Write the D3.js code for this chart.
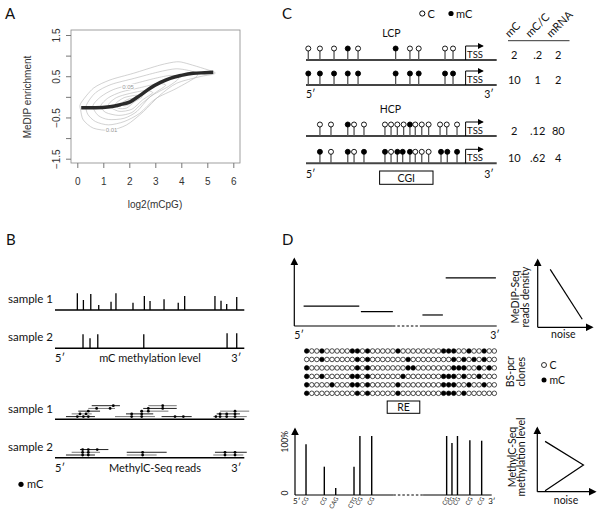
<!DOCTYPE html>
<html><head><meta charset="utf-8">
<script src="https://cdn.jsdelivr.net/npm/d3@7"></script>
<style>body{margin:0;background:#fff}svg{display:block}</style>
</head><body>
<svg id="fig" width="600" height="515"></svg>
<script>
// ================= DATA =================
// ---- Panel A ----
const aXTicks = [0,1,2,3,4,5,6];
const aYTicks = [-1.5,-1,-0.5,0,0.5,1,1.5];
const aYTickLabels = ["\u22121.5","","\u22120.5","","0.5","","1.5"];
const aFitX = [0.15,0.7,1.26,1.65,2.03,2.4,2.8,3.2,3.57,4.0,4.46,4.9,5.23];
const aFitY = [-0.265,-0.265,-0.24,-0.19,-0.12,0.03,0.21,0.35,0.45,0.52,0.57,0.585,0.595];
const aContours = [
  [[0.13,-0.16],[0.62,0.21],[1.26,0.41],[2.15,0.57],[3.18,0.77],[3.82,0.85],[4.21,0.81],[5.23,0.61],[5.23,0.55],[4.72,0.49],[3.82,0.33],[3.18,0.04],[2.54,-0.36],[1.9,-0.68],[1.26,-0.81],[0.62,-0.76],[0.23,-0.56],[0.13,-0.32]],
  [[0.35,-0.2],[0.7,0.1],[1.3,0.3],[2.2,0.45],[3.1,0.6],[3.8,0.68],[4.4,0.62],[4.6,0.5],[3.8,0.2],[3.0,-0.05],[2.4,-0.4],[1.8,-0.6],[1.2,-0.68],[0.7,-0.6],[0.4,-0.42]],
  [[0.6,-0.22],[0.9,0.0],[1.4,0.18],[2.2,0.32],[3.0,0.45],[3.6,0.52],[3.9,0.45],[3.5,0.25],[2.8,0.0],[2.3,-0.35],[1.8,-0.52],[1.2,-0.55],[0.8,-0.45]],
  [[0.9,-0.22],[1.2,-0.02],[1.7,0.12],[2.4,0.22],[3.1,0.32],[3.4,0.28],[3.0,0.1],[2.5,-0.15],[2.1,-0.38],[1.6,-0.45],[1.1,-0.38]],
  [[1.2,-0.2],[1.5,-0.02],[2.0,0.08],[2.6,0.15],[2.9,0.1],[2.5,-0.08],[2.1,-0.3],[1.6,-0.35]],
  [[1.45,-0.18],[1.8,-0.02],[2.3,0.04],[2.5,0.0],[2.2,-0.12],[1.9,-0.27],[1.6,-0.28]],
  [[1.7,-0.15],[2.0,-0.05],[2.25,-0.06],[2.0,-0.18],[1.8,-0.22]]
];
const aContourLabels = [{t:"0.05",x:1.95,y:0.24},{t:"0.01",x:1.32,y:-0.81}];

// ---- Panel B ----
const bS1Pos = [11.8,15.0,18.9,23.1,29.6,32.2,41.2,47.2,50.2,57.6,65.1,68.5,84.5,87.7,90.7,96.0];
const bS1Lvl = [0.98,0.59,0.94,0.29,0.49,0.98,0.43,0.82,0.53,0.63,0.43,0.82,0.82,0.55,0.35,0.76];
const bS2Pos = [14.8,18.5,22.6,46.9,90.9,96.0];
const bS2Lvl = [0.82,0.59,0.82,0.82,0.88,0.88];
// reads: [start, end, stack level, [mC positions]]
const bReads1 = [
  [5.8,21.1,0,[11.8,15.0,17.6]],[8.8,19.4,1,[13.2,16.4]],[12.3,23.8,2,[17.6]],
  [17.6,31.7,3,[22.0,29.1]],[19.4,34.3,4,[30.8]],
  [31.7,52.8,0,[40.5,45.8]],[37.5,51.9,1,[40.5,45.8]],[44.9,59.9,2,[45.8,49.3]],
  [46.6,64.3,3,[49.3,56.9]],[49.3,64.3,4,[56.9]],
  [56.3,72.2,0,[63.4,67.8]],
  [83.6,101.3,0,[85.0,87.2,90.7,95.1]],[85.4,97.7,1,[87.2,90.7,95.1]],[87.2,102.6,2,[95.1]]
];
const bReads2 = [
  [5.8,21.1,0,[14.6,17.6]],[8.8,23.8,1,[14.6,17.6]],[13.2,28.2,2,[14.6,17.6,22.3]],
  [37.9,53.7,0,[46.3]],[37.9,59.0,1,[46.3]],
  [83.6,99.5,0,[89.8,95.1]],[84.5,101.3,1,[89.8,95.1]]
];

// ---- Panel C ----
const cLcpPos = [1.2,7.3,14.7,21.9,27.3,47.0,54.5,59.1,72.9,77.1];
const cLcpRow1 = [0,0,0,1,0,1,0,0,0,0];
const cLcpRow2 = [1,1,1,1,1,1,1,1,1,1];
const cHcpPos1 = [7.3,13.1,21.9,25.2,30.4,41.4,44.6,47.9,51.2,54.5,57.3,60.7,64.3,70.3,73.8,79.2];
const cHcpRow1 = [0,0,1,0,0,0,0,0,0,1,0,0,0,0,0,0];
const cHcpPos2 = [7.3,13.1,21.9,25.2,30.4,41.4,44.6,47.9,50.7,54.5,57.3,60.7,64.3,70.8,74.1,79.2];
const cHcpRow2 = [1,0,1,0,1,1,0,1,1,1,0,0,0,1,1,1];
const cTssPos = 83.7;
const cCgi = [38.6,66.6];
const cHeaders = ["mC","mC/C","mRNA"];
const cValues = [["2",".2","2"],["10","1","2"],["2",".12","80"],["10",".62","4"]];

// ---- Panel D ----
const dDensity = [[4.6,32.1,3.0],[32.9,48.7,2.17],[63.3,73.4,1.67],[74.8,99.6,7.3]];
const dGap1 = [48.7,63.1];
const dClones = [
  "10010000011010000010000000011100100100",
  "00010000001010000000100000000101010100",
  "10000000001010000000110000000111001010",
  "10010000011010000001000000011101001000",
  "10000100011010000010000000011100100100",
  "10000000001010000010000000011101000000"
];
const dRE = [45.9,62.0];
const dBarPos = [5.6,14.9,20.7,30.0,33.0,39.0,77.1,79.8,82.6,88.9,94.9];
const dBarVal = [86,48,12,48,100,100,100,88,100,93,92];
const dBarCtx = ["CG","CG","CAG","CTG","CG","CG","CG","CG","CG","CG","CG"];
const dGap2 = [50.0,65.1];

// ================= DRAW =================
const svg = d3.select("#fig");
const defs = svg.append("defs");
function marker(id,size){
  defs.append("marker").attr("id",id).attr("viewBox","0 0 10 10").attr("refX",8).attr("refY",5)
    .attr("markerWidth",size).attr("markerHeight",size).attr("markerUnits","userSpaceOnUse").attr("orient","auto")
    .append("path").attr("d","M0,0L10,5L0,10z").attr("fill","#000");
}
marker("arr",8); marker("arrS",6);
const SANS = "Lato, 'Open Sans', sans-serif";
const ARIAL = "'Liberation Sans', Arial, sans-serif";

function txt(g,x,y,s,size,anchor,font){
  return g.append("text").attr("x",x).attr("y",y).text(s).attr("font-size",size)
    .attr("text-anchor",anchor||"start").attr("font-family",font||SANS).attr("fill","#111");
}
// Panel letters
[["A",5,19],["C",282,19],["B",6,245],["D",282,245]].forEach(d=>txt(svg,d[1],d[2],d[0],15));

// ---------- Panel A ----------
{
  const g = svg.append("g");
  const xA = d3.scaleLinear().domain([0,6]).range([77.3,233.3]);
  const yA = d3.scaleLinear().domain([-1.5,1.5]).range([158.7,35]);
  const cline = d3.line().x(d=>xA(d[0])).y(d=>yA(d[1])).curve(d3.curveCardinalClosed.tension(0.2));
  g.selectAll("path.ct").data(aContours).join("path").attr("class","ct")
    .attr("d",cline).attr("fill","none").attr("stroke","#b4b4b4").attr("stroke-width",0.6);
  aContourLabels.forEach(l=>{
    txt(g,xA(l.x),yA(l.y)+2,l.t,6,"middle",ARIAL).attr("fill","#999")
      .attr("stroke","#fff").attr("stroke-width",2).attr("paint-order","stroke");
  });
  const fit = d3.line().x((d,i)=>xA(aFitX[i])).y((d,i)=>yA(aFitY[i])).curve(d3.curveMonotoneX);
  g.append("path").datum(aFitX).attr("d",fit).attr("fill","none").attr("stroke","#2a2a2a").attr("stroke-width",3.5);
  g.append("rect").attr("x",71).attr("y",30).attr("width",169).attr("height",133)
    .attr("fill","none").attr("stroke","#888").attr("stroke-width",0.8);
  const xa = g.append("g").attr("transform","translate(0,163)")
    .call(d3.axisBottom(xA).tickValues(aXTicks).tickSize(5).tickPadding(10).tickFormat(d3.format("d")));
  xa.select(".domain").remove();
  xa.selectAll("line").attr("stroke","#777");
  xa.selectAll("text").attr("font-family",ARIAL).attr("font-size",10).attr("fill","#333");
  const ya = g.append("g").attr("transform","translate(71,0)")
    .call(d3.axisLeft(yA).tickValues(aYTicks).tickSize(5).tickFormat((d,i)=>aYTickLabels[i]));
  ya.select(".domain").remove();
  ya.selectAll("line").attr("stroke","#777");
  ya.selectAll("text").attr("font-family",ARIAL).attr("font-size",10).attr("fill","#333")
    .attr("x",0).attr("dy",0).attr("text-anchor","middle").attr("transform","translate(-11,0) rotate(-90)");
  txt(g,155,208,"log2(mCpG)",10,"middle",ARIAL).attr("fill","#333");
  txt(g,0,0,"MeDIP enrichment",10,"middle",ARIAL).attr("fill","#333")
    .attr("transform","translate(31,97) rotate(-90)");
}

// ---------- Panel C ----------
{
  const g = svg.append("g");
  const xC = d3.scaleLinear().domain([0,100]).range([306,496.7]);
  // legend
  g.append("circle").attr("cx",422.3).attr("cy",13.5).attr("r",2.6).attr("fill","#fff").attr("stroke","#000");
  txt(g,427.5,17.5,"C",11);
  g.append("circle").attr("cx",451).attr("cy",13.5).attr("r",2.6).attr("fill","#000");
  txt(g,456,17.5,"mC",11);
  txt(g,391.5,37,"LCP",10.5,"middle");
  txt(g,390.5,113,"HCP",10.5,"middle");
  const rows = [
    {base:60, pos:cLcpPos, st:cLcpRow1},
    {base:85, pos:cLcpPos, st:cLcpRow2},
    {base:136, pos:cHcpPos1, st:cHcpRow1},
    {base:163.3, pos:cHcpPos2, st:cHcpRow2}
  ];
  rows.forEach((r,ri)=>{
    const rg = g.append("g");
    rg.append("line").attr("x1",xC(0)).attr("x2",xC(100)).attr("y1",r.base).attr("y2",r.base)
      .attr("stroke","#444").attr("stroke-width",2);
    rg.selectAll("line.st").data(r.pos).join("line").attr("class","st")
      .attr("x1",d=>xC(d)).attr("x2",d=>xC(d)).attr("y1",r.base).attr("y2",r.base-11)
      .attr("stroke","#555").attr("stroke-width",1.3);
    rg.selectAll("circle").data(r.pos).join("circle")
      .attr("cx",d=>xC(d)).attr("cy",r.base-11.5).attr("r",2.5)
      .attr("fill",(d,i)=>r.st[i]?"#000":"#fff").attr("stroke","#000").attr("stroke-width",0.9);
    const tx = xC(cTssPos);
    rg.append("path").attr("d",`M${tx},${r.base}V${r.base-14}H${tx+17}`)
      .attr("fill","none").attr("stroke","#000").attr("stroke-width",1).attr("marker-end","url(#arrS)");
    txt(rg,tx+1.5,r.base-2.5,"TSS",9.5);
    cValues[ri].forEach((v,j)=>txt(rg,[514.3,537.7,558.3][j],r.base-1,v,11,"middle"));
  });
  [94, 173.5].forEach(y=>{
    txt(g,xC(0),y+4,"5\u2032",10.5,"start");
    txt(g,xC(100)-3,y+4,"3\u2032",10.5,"end");
  });
  g.append("rect").attr("x",xC(cCgi[0])).attr("y",171).attr("width",xC(cCgi[1])-xC(cCgi[0])).attr("height",13.3)
    .attr("fill","#fff").attr("stroke","#000").attr("stroke-width",1);
  txt(g,(xC(cCgi[0])+xC(cCgi[1]))/2,181.5,"CGI",10.5,"middle");
  // table header
  cHeaders.forEach((h,j)=>{
    txt(g,0,0,h,11,"start").attr("transform",`translate(${[509.5,530,551][j]},38) rotate(-45)`);
  });
  g.append("line").attr("x1",508).attr("x2",569.5).attr("y1",40.7).attr("y2",40.7).attr("stroke","#000").attr("stroke-width",0.8);
}

// ---------- Panel B ----------
{
  const g = svg.append("g");
  const xB = d3.scaleLinear().domain([0,100]).range([55,244.3]);
  const hB = d3.scaleLinear().domain([0,1]).range([0,17]);
  const lollis = [{base:310,pos:bS1Pos,lvl:bS1Lvl,label:"sample 1"},{base:348.3,pos:bS2Pos,lvl:bS2Lvl,label:"sample 2"}];
  lollis.forEach(s=>{
    g.append("line").attr("x1",xB(0)).attr("x2",xB(100)).attr("y1",s.base).attr("y2",s.base).attr("stroke","#000").attr("stroke-width",1.6);
    g.selectAll(null).data(s.pos).join("line")
      .attr("x1",d=>xB(d)).attr("x2",d=>xB(d)).attr("y1",s.base).attr("y2",(d,i)=>s.base-hB(s.lvl[i]))
      .attr("stroke","#000").attr("stroke-width",1.3);
    txt(g,8,s.base-7.5,s.label,11.5);
  });
  txt(g,xB(0),362,"5\u2032",11,"start");
  txt(g,xB(100)-3,362,"3\u2032",11,"end");
  txt(g,150,362,"mC methylation level",11,"middle");

  const lv = d3.scaleLinear().domain([0,4]).range([2.7,13.6]);
  [{base:419.3,reads:bReads1,label:"sample 1"},{base:457.7,reads:bReads2,label:"sample 2"}].forEach(s=>{
    g.append("line").attr("x1",xB(0)).attr("x2",xB(100)).attr("y1",s.base).attr("y2",s.base).attr("stroke","#000").attr("stroke-width",1.6);
    txt(g,8,s.base-6.5,s.label,11.5);
    s.reads.forEach((r,i)=>{
      const y = s.base - lv(r[2]);
      g.append("line").attr("x1",xB(r[0])).attr("x2",xB(r[1])).attr("y1",y).attr("y2",y)
        .attr("stroke",i%2?"#777":"#222").attr("stroke-width",1);
      g.selectAll(null).data(r[3]).join("circle").attr("cx",d=>xB(d)).attr("cy",y).attr("r",1.4).attr("fill","#000");
    });
  });
  txt(g,xB(0),472,"5\u2032",11,"start");
  txt(g,xB(100)-3,472,"3\u2032",11,"end");
  txt(g,155,472,"MethylC-Seq reads",11,"middle");
  g.append("circle").attr("cx",21).attr("cy",484.3).attr("r",2.6).attr("fill","#000");
  txt(g,27,488,"mC",11);
}

// ---------- Panel D ----------
{
  const g = svg.append("g");
  // top density chart
  const xD = d3.scaleLinear().domain([0,100]).range([294.3,496.7]);
  const yD = d3.scaleLinear().domain([0,10]).range([326,260]);
  g.append("line").attr("x1",xD(0)).attr("x2",xD(0)).attr("y1",yD(0)).attr("y2",yD(10)-1)
    .attr("stroke","#000").attr("stroke-width",1.2).attr("marker-end","url(#arr)");
  g.append("line").attr("x1",xD(0)).attr("x2",xD(dGap1[0])).attr("y1",yD(0)).attr("y2",yD(0)).attr("stroke","#000").attr("stroke-width",1.2);
  g.append("line").attr("x1",xD(dGap1[0])).attr("x2",xD(dGap1[1])).attr("y1",yD(0)).attr("y2",yD(0)).attr("stroke","#000").attr("stroke-width",1.2).attr("stroke-dasharray","2.5,2");
  g.append("line").attr("x1",xD(dGap1[1])).attr("x2",xD(100)).attr("y1",yD(0)).attr("y2",yD(0)).attr("stroke","#000").attr("stroke-width",1.2);
  g.selectAll("line.seg").data(dDensity).join("line").attr("class","seg")
    .attr("x1",d=>xD(d[0])).attr("x2",d=>xD(d[1])).attr("y1",d=>yD(d[2])).attr("y2",d=>yD(d[2]))
    .attr("stroke","#000").attr("stroke-width",1.2);
  txt(g,xD(0),339,"5\u2032",10.5,"start");
  txt(g,xD(100)+3,339,"3\u2032",10.5,"end");
  // small noise plot 1
  const xn = d3.scaleLinear().domain([0,10]).range([537.7,592]);
  const yn = d3.scaleLinear().domain([0,10]).range([327.3,260]);
  g.append("line").attr("x1",xn(0)).attr("x2",xn(0)).attr("y1",yn(0)).attr("y2",yn(10)).attr("stroke","#000").attr("stroke-width",1.2).attr("marker-end","url(#arr)");
  g.append("line").attr("x1",xn(0)).attr("x2",xn(10)).attr("y1",yn(0)).attr("y2",yn(0)).attr("stroke","#000").attr("stroke-width",1.2).attr("marker-end","url(#arr)");
  const trend1 = [[2.3,8.6],[8.2,1.2]];
  g.append("path").attr("d",d3.line().x(d=>xn(d[0])).y(d=>yn(d[1]))(trend1)).attr("stroke","#000").attr("stroke-width",1.2).attr("fill","none");
  txt(g,563.3,337.5,"noise",10.5,"middle");
  txt(g,0,0,"MeDIP-Seq",10.5,"middle").attr("transform","translate(518.5,297) rotate(-90)");
  txt(g,0,0,"reads density",10.5,"middle").attr("transform","translate(528.5,297) rotate(-90)");

  // clones grid
  const xg = d3.scaleLinear().domain([0,37]).range([306.7,494.3]);
  const yg = d3.scaleLinear().domain([0,5]).range([351,393.3]);
  dClones.forEach((row,ri)=>{
    g.selectAll(null).data(row.split("")).join("circle")
      .attr("cx",(d,i)=>xg(i)).attr("cy",yg(ri)).attr("r",2.3)
      .attr("fill",d=>d==="1"?"#000":"#fff").attr("stroke","#000").attr("stroke-width",0.7);
  });
  g.append("rect").attr("x",xD(dRE[0])).attr("y",401).attr("width",xD(dRE[1])-xD(dRE[0])).attr("height",12.3)
    .attr("fill","#fff").attr("stroke","#000").attr("stroke-width",1);
  txt(g,(xD(dRE[0])+xD(dRE[1]))/2,411,"RE",10.5,"middle");
  txt(g,0,0,"BS-pcr",10.5,"middle").attr("transform","translate(513.5,371.7) rotate(-90)");
  txt(g,0,0,"clones",10.5,"middle").attr("transform","translate(525,371.7) rotate(-90)");
  g.append("circle").attr("cx",544).attr("cy",365).attr("r",2.5).attr("fill","#fff").attr("stroke","#000").attr("stroke-width",0.8);
  txt(g,549.5,369,"C",10.5);
  g.append("circle").attr("cx",544).attr("cy",380).attr("r",2.5).attr("fill","#000");
  txt(g,549.5,384,"mC",10.5);

  // bottom methylation level chart
  const xM = d3.scaleLinear().domain([0,100]).range([295,491.7]);
  const yM = d3.scaleLinear().domain([0,100]).range([495,436]);
  g.append("line").attr("x1",xM(0)).attr("x2",xM(0)).attr("y1",yM(0)).attr("y2",429).attr("stroke","#000").attr("stroke-width",1.2).attr("marker-end","url(#arr)");
  g.append("line").attr("x1",xM(0)).attr("x2",xM(dGap2[0])).attr("y1",yM(0)).attr("y2",yM(0)).attr("stroke","#000").attr("stroke-width",1.2);
  g.append("line").attr("x1",xM(dGap2[0])).attr("x2",xM(dGap2[1])).attr("y1",yM(0)).attr("y2",yM(0)).attr("stroke","#000").attr("stroke-width",1.2).attr("stroke-dasharray","2.5,2");
  g.append("line").attr("x1",xM(dGap2[1])).attr("x2",xM(100)).attr("y1",yM(0)).attr("y2",yM(0)).attr("stroke","#000").attr("stroke-width",1.2);
  g.selectAll("line.bar").data(dBarPos).join("line").attr("class","bar")
    .attr("x1",d=>xM(d)).attr("x2",d=>xM(d)).attr("y1",yM(0)).attr("y2",(d,i)=>yM(dBarVal[i]))
    .attr("stroke","#000").attr("stroke-width",1.4);
  dBarPos.forEach((p,i)=>{
    txt(g,0,0,dBarCtx[i],6,"end").attr("transform",`translate(${xM(p)+3},498.5) rotate(-60)`);
  });
  txt(g,xM(0)-2,504,"5\u2032",8,"start");
  txt(g,495.5,504,"3\u2032",8,"end");
  txt(g,0,0,"100%",8.5,"middle").attr("transform","translate(288,441.7) rotate(-90)");
  txt(g,0,0,"0",8.5,"middle").attr("transform","translate(288,493) rotate(-90)");
  // small noise plot 2
  const xn2 = d3.scaleLinear().domain([0,10]).range([537.3,595]);
  const yn2 = d3.scaleLinear().domain([0,10]).range([491.7,428]);
  g.append("line").attr("x1",xn2(0)).attr("x2",xn2(0)).attr("y1",yn2(0)).attr("y2",yn2(10)).attr("stroke","#000").attr("stroke-width",1.2).attr("marker-end","url(#arr)");
  g.append("line").attr("x1",xn2(0)).attr("x2",xn2(10)).attr("y1",yn2(0)).attr("y2",yn2(0)).attr("stroke","#000").attr("stroke-width",1.2).attr("marker-end","url(#arr)");
  const trend2 = [[1.35,7.9],[8.0,4.2],[1.35,0.15]];
  g.append("path").attr("d",d3.line().x(d=>xn2(d[0])).y(d=>yn2(d[1]))(trend2)).attr("stroke","#000").attr("stroke-width",1.2).attr("fill","none");
  txt(g,566,504,"noise",10.5,"middle");
  txt(g,0,0,"MethylC-Seq",10.5,"middle").attr("transform","translate(516,457) rotate(-90)");
  txt(g,0,0,"methylation level",10.5,"middle").attr("transform","translate(525,457) rotate(-90)");
}
</script>
</body></html>
